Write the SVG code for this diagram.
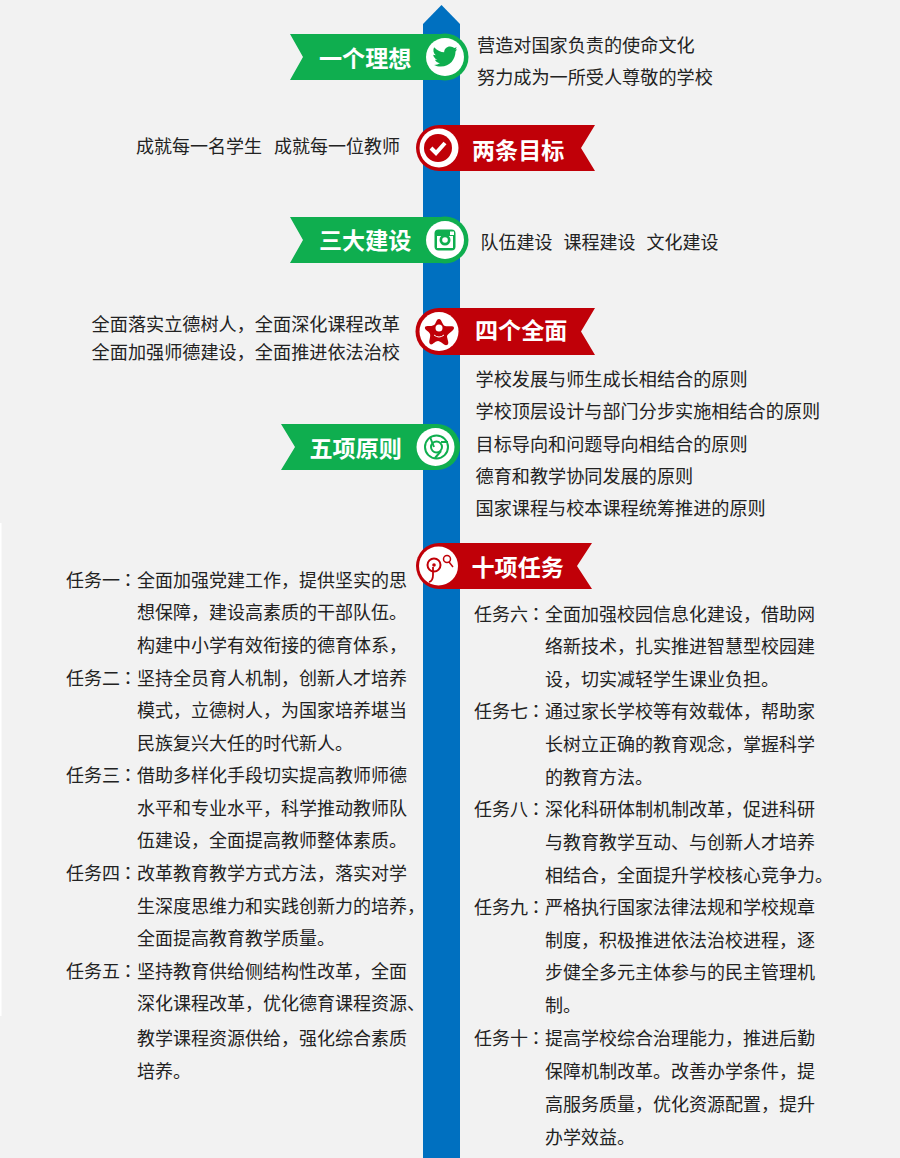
<svg xmlns="http://www.w3.org/2000/svg" width="900" height="1158" viewBox="0 0 900 1158">
<style>
text{font-family:"Noto Sans CJK SC","Noto Sans",sans-serif;font-size:18px;fill:#222}
.b{font-size:18.15px}
.c{font-family:"Noto Sans CJK TC","Noto Sans",sans-serif}
.t{font-size:23.100px;font-weight:700;fill:#fff}
.g{fill:#0fae4f}.r{fill:#c00008}.w{fill:#fff}
.ig{fill:#0fae4f}.ir{fill:#c00008}
</style>
<rect width="900" height="1158" fill="#f2f2f2"/>
<rect x="0" y="523" width="1.5" height="493" fill="#fff"/>
<g id="connectors"><path d="M423 24L441.500 5L460 24V1158H423Z" fill="#0070c0"/></g>

<g id="node-1">
<path class="g" d="M290 34H445V80H290L303 57Z"/><circle class="g" cx="445" cy="57" r="23.500"/><circle class="w" cx="445" cy="57" r="19"/>
<path class="ig" transform="translate(445 56.500) scale(.84) translate(-446 -56)" d="M433 45C437 49 441 51 445 51C445 47 448 44 452 44C454 44 456 45 457 46L460 45L458.500 48L460.500 47.500L458.500 50C458.500 59 452 68 441 68C438 68 435 67 433 66C436 66 438 65 440 64C437 64 435 62 434 60L437 60C434 59 432 56 432 54L435 54.500C432 52 431.500 48 433 45Z"/>
<text class="t" x="319" y="67">一个理想</text>
<text class="b" x="477" y="51.500">营造对国家负责的使命文化</text>
<text class="b" x="477" y="84">努力成为一所受人尊敬的学校</text>
</g>

<g id="node-2">
<path class="r" d="M595 125H439V171H595L581 148Z"/><circle class="r" cx="439" cy="148" r="23"/><circle class="w" cx="439" cy="148" r="19.500"/><circle class="r" cx="438" cy="148" r="14"/>
<path d="M431 148L436 153L445 143" fill="none" stroke="#fff" stroke-width="4"/>
<text class="t" x="472" y="158.500">两条目标</text>
<text x="136" y="153">成就每一名学生</text><text x="274" y="153">成就每一位教师</text>
</g>

<g id="node-3">
<path class="g" d="M290 217H445V263H290L303 240Z"/><circle class="g" cx="445" cy="240" r="23.500"/><circle class="w" cx="445" cy="240" r="19"/>
<rect x="434.500" y="229.500" width="21" height="21" rx="4" class="ig"/><rect x="437" y="236" width="16" height="12" fill="#fff"/><circle class="ig" cx="445" cy="240" r="5.500"/><circle class="w" cx="445" cy="240" r="2.800"/><rect x="450" y="231.500" width="4" height="3.500" fill="#fff"/>
<text class="t" x="319" y="249">三大建设</text>
<text x="480.500" y="248.500">队伍建设</text><text x="563.500" y="248.500">课程建设</text><text x="646.500" y="248.500">文化建设</text>
</g>

<g id="node-4">
<path class="r" d="M595 308H439V355H595L581 331.500Z"/><circle class="r" cx="439" cy="331.500" r="23.500"/><circle class="w" cx="439" cy="331.500" r="19.500"/>
<path class="ir" d="M439 319C442 319 442 325 445 326C448 327 454 325 454 328C454 331 448 333 447 336C447 339 450 344 447 345C444 346 441 341 438 341C435 341 432 346 430 344C428 342 431 337 430 334C429 331 424 330 425 327C426 325 431 327 434 325C436 324 436 319 439 319Z"/>
<circle class="w" cx="439" cy="328" r="3.500"/><path d="M434 335Q439 339 444 335" fill="none" stroke="#fff" stroke-width="1"/>
<text class="t" x="475" y="339">四个全面</text>
<text class="b" x="400" y="330.500" text-anchor="end">全面落实立德树人，全面深化课程改革</text>
<text class="b" x="400" y="358.500" text-anchor="end">全面加强师德建设，全面推进依法治校</text>
</g>

<g id="node-5">
<path class="g" d="M281 424H438V470H281L295 447Z"/><circle class="g" cx="437" cy="447" r="23"/><circle class="w" cx="435.500" cy="447" r="19"/>
<circle cx="436.500" cy="447" r="11.500" fill="none" stroke="#0fae4f" stroke-width="2"/><circle cx="436.500" cy="447" r="5.500" fill="none" stroke="#0fae4f" stroke-width="2"/>
<path d="M430 437L434 447M441 442H448M441 451L435 458" stroke="#0fae4f" stroke-width="2" fill="none"/>
<text class="t" x="309.500" y="456.500">五项原则</text>
<text class="b" x="475.500" y="386">学校发展与师生成长相结合的原则</text>
<text class="b" x="475.500" y="418">学校顶层设计与部门分步实施相结合的原则</text>
<text class="b" x="475.500" y="451">目标导向和问题导向相结合的原则</text>
<text class="b" x="475.500" y="483">德育和教学协同发展的原则</text>
<text class="b" x="475.500" y="515">国家课程与校本课程统筹推进的原则</text>
</g>

<g id="node-6">
<path class="r" d="M592 543H439V589H592L577 566Z"/><circle class="r" cx="439" cy="566" r="23"/><circle class="w" cx="438.500" cy="566" r="19.500"/>
<circle cx="434" cy="565" r="6.500" fill="none" stroke="#c00008" stroke-width="2"/><circle cx="434" cy="565" r="1.800" class="ir"/>
<path d="M433 567V575Q433 581 429 582" fill="none" stroke="#c00008" stroke-width="1.800"/>
<circle cx="447" cy="559" r="3.500" fill="none" stroke="#c00008" stroke-width="1.500"/><path d="M449 562L453 567" stroke="#c00008" stroke-width="1.500"/>
<text class="t" x="471.500" y="575.500">十项任务</text>
<text><tspan x="66" y="586.500">任务一<tspan class="c" dx="-1">：</tspan></tspan><tspan x="137" y="586.500">全面加强党建工作，提供坚实的思</tspan><tspan x="137" y="618.500">想保障，建设高素质的干部队伍。</tspan><tspan x="137" y="651.500">构建中小学有效衔接的德育体系，</tspan></text>
<text><tspan x="66" y="684.500">任务二<tspan class="c" dx="-1">：</tspan></tspan><tspan x="137" y="684.500">坚持全员育人机制，创新人才培养</tspan><tspan x="137" y="716.500">模式，立德树人，为国家培养堪当</tspan><tspan x="137" y="749.500">民族复兴大任的时代新人。</tspan></text>
<text><tspan x="66" y="781.500">任务三<tspan class="c" dx="-1">：</tspan></tspan><tspan x="137" y="781.500">借助多样化手段切实提高教师师德</tspan><tspan x="137" y="814.500">水平和专业水平，科学推动教师队</tspan><tspan x="137" y="846.500">伍建设，全面提高教师整体素质。</tspan></text>
<text><tspan x="66" y="879.500">任务四<tspan class="c" dx="-1">：</tspan></tspan><tspan x="137" y="879.500">改革教育教学方式方法，落实对学</tspan><tspan x="137" y="912.500">生深度思维力和实践创新力的培养，</tspan><tspan x="137" y="944.500">全面提高教育教学质量。</tspan></text>
<text><tspan x="66" y="977.500">任务五<tspan class="c" dx="-1">：</tspan></tspan><tspan x="137" y="977.500">坚持教育供给侧结构性改革，全面</tspan><tspan x="137" y="1009.500">深化课程改革，优化德育课程资源、</tspan><tspan x="137" y="1044.500">教学课程资源供给，强化综合素质</tspan><tspan x="137" y="1077.500">培养。</tspan></text>
<text><tspan x="474" y="620.500">任务六<tspan class="c" dx="-1">：</tspan></tspan><tspan x="545" y="620.500">全面加强校园信息化建设，借助网</tspan><tspan x="545" y="652.500">络新技术，扎实推进智慧型校园建</tspan><tspan x="545" y="685.500">设，切实减轻学生课业负担。</tspan></text>
<text><tspan x="474" y="718">任务七<tspan class="c" dx="-1">：</tspan></tspan><tspan x="545" y="718">通过家长学校等有效载体，帮助家</tspan><tspan x="545" y="750.500">长树立正确的教育观念，掌握科学</tspan><tspan x="545" y="783.500">的教育方法。</tspan></text>
<text><tspan x="474" y="815.500">任务八<tspan class="c" dx="-1">：</tspan></tspan><tspan x="545" y="815.500">深化科研体制机制改革，促进科研</tspan><tspan x="545" y="848.500">与教育教学互动、与创新人才培养</tspan><tspan x="545" y="881.500">相结合，全面提升学校核心竞争力。</tspan></text>
<text><tspan x="474" y="913.500">任务九<tspan class="c" dx="-1">：</tspan></tspan><tspan x="545" y="913.500">严格执行国家法律法规和学校规章</tspan><tspan x="545" y="946.500">制度，积极推进依法治校进程，逐</tspan><tspan x="545" y="978.500">步健全多元主体参与的民主管理机</tspan><tspan x="545" y="1011.500">制。</tspan></text>
<text><tspan x="474" y="1044.500">任务十<tspan class="c" dx="-1">：</tspan></tspan><tspan x="545" y="1044.500">提高学校综合治理能力，推进后勤</tspan><tspan x="545" y="1077.500">保障机制改革。改善办学条件，提</tspan><tspan x="545" y="1110.500">高服务质量，优化资源配置，提升</tspan><tspan x="545" y="1143.500">办学效益。</tspan></text>
</g>
</svg>
